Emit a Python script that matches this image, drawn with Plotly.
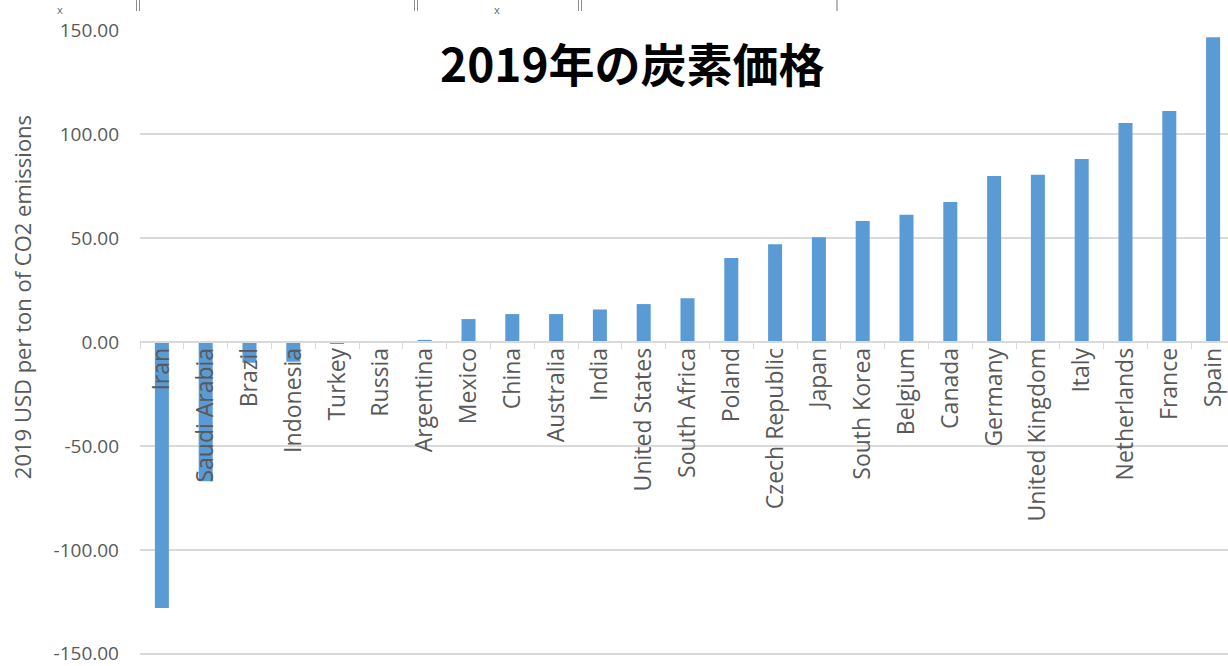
import plotly.graph_objects as go

# Carbon price by country, 2019 (USD per ton of CO2)
countries = [
    "Iran", "Saudi Arabia", "Brazil", "Indonesia", "Turkey", "Russia",
    "Argentina", "Mexico", "China", "Australia", "India", "United States",
    "South Africa", "Poland", "Czech Republic", "Japan", "South Korea",
    "Belgium", "Canada", "Germany", "United Kingdom", "Italy",
    "Netherlands", "France", "Spain",
]
prices = [
    -128.0, -67.0, -10.0, -9.5, -1.0, 0.0,
    1.0, 11.0, 13.4, 13.4, 15.6, 18.2,
    21.0, 40.4, 47.0, 50.3, 58.1,
    61.1, 67.3, 79.8, 80.4, 88.0,
    105.3, 111.1, 146.5,
]
y_ticks = [-150, -100, -50, 0, 50, 100, 150]
y_tick_text = [f"{v:.2f}" for v in y_ticks]

title_text = "2019年の炭素価格"
y_title = "2019 USD per ton of CO2 emissions"

W, H = 1228, 666
ML, MR, MT, MB = 140, 0, 30, 6
PW, PH = W - ML - MR, H - MT - MB


def px_x(x):
    return (x - ML) / PW


def px_y(y):
    return (H - MB - y) / PH


GRID = "#d9d9d9"
TEXT = "#595959"
BAR = "#5b9bd5"
FONT = "Open Sans"

fig = go.Figure(
    go.Bar(
        x=countries,
        y=prices,
        marker=dict(color=BAR, line=dict(width=0)),
        width=0.32,
    )
)

fig.update_layout(
    width=W,
    height=H,
    margin=dict(l=ML, r=MR, t=MT, b=MB, pad=0),
    paper_bgcolor="white",
    plot_bgcolor="white",
    showlegend=False,
    font=dict(family=FONT, color=TEXT, size=19),
    xaxis=dict(
        type="category",
        range=[-0.5, -0.5 + PW / 43.8],
        anchor="free",
        position=152 / 302,
        showline=True,
        linecolor=GRID,
        linewidth=1.5,
        ticks="outside",
        tickson="boundaries",
        ticklen=6,
        tickwidth=1.2,
        tickcolor=GRID,
        tickangle=-90,
        tickfont=dict(family=FONT, size=23, color=TEXT),
        ticklabelstandoff=-4,
        showgrid=False,
        zeroline=False,
    ),
    yaxis=dict(
        range=[-152, 150],
        tickvals=y_ticks,
        ticktext=y_tick_text,
        ticklabeloverflow="allow",
        showgrid=True,
        gridcolor=GRID,
        gridwidth=1.5,
        zeroline=False,
        showline=False,
        ticks="",
        tickfont=dict(family=FONT, size=19, color=TEXT),
        ticklabelstandoff=20,
    ),
)

# Chart title
fig.add_annotation(
    text=f"<b>{title_text}</b>",
    x=px_x(632), y=px_y(62), xref="paper", yref="paper",
    xanchor="center", yanchor="middle", showarrow=False,
    font=dict(family="Noto Sans CJK JP", size=46, color="black"),
)

# Value axis title
fig.add_annotation(
    text=y_title,
    x=px_x(22), y=px_y(298), xref="paper", yref="paper",
    xanchor="center", yanchor="middle", showarrow=False, textangle=-90,
    font=dict(family=FONT, size=22, color=TEXT),
)

# Window chrome along the top edge
for xp in [138, 416, 580]:
    for dx in (-1.5, 1.5):
        fig.add_shape(
            type="line", xref="paper", yref="paper",
            x0=px_x(xp + dx), x1=px_x(xp + dx), y0=px_y(0), y1=px_y(11),
            line=dict(color="#8c8c8c", width=1),
        )
fig.add_shape(
    type="line", xref="paper", yref="paper",
    x0=px_x(837), x1=px_x(837), y0=px_y(0), y1=px_y(11),
    line=dict(color="#8c8c8c", width=1.2),
)
for xp in [60, 497]:
    fig.add_annotation(
        text="x", x=px_x(xp), y=px_y(9), xref="paper", yref="paper",
        xanchor="center", yanchor="middle", showarrow=False,
        font=dict(family=FONT, size=11, color="#666666"),
    )

fig.write_html("out.html")
